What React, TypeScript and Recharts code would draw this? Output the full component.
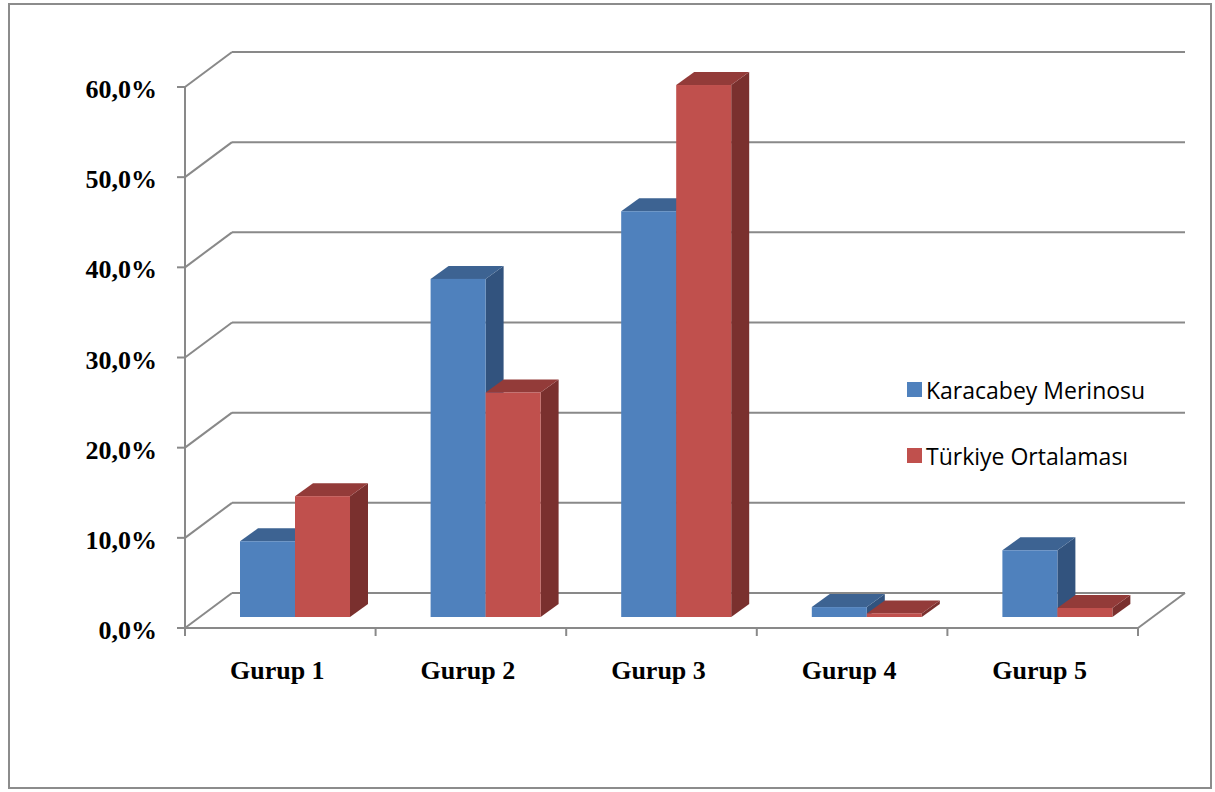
import { BarChart, Bar, XAxis, YAxis, CartesianGrid } from 'recharts';

const categories = ['Gurup 1', 'Gurup 2', 'Gurup 3', 'Gurup 4', 'Gurup 5'];
const karacabey = [8.4, 37.5, 45.0, 1.1, 7.4];
const turkiye = [13.4, 24.9, 59.0, 0.4, 1.0];
const yTicks = [0, 10, 20, 30, 40, 50, 60];
const seriesNames = ['Karacabey Merinosu', 'Türkiye Ortalaması'];

const data = categories.map((name, i) => ({
  name,
  karacabey: karacabey[i],
  turkiye: turkiye[i],
}));

const W = 1215;
const H = 792;
const margin = { top: 87, right: 77, bottom: 134, left: 85 };
const Y_AXIS_W = 100;
const X_AXIS_H = 30;
const PLOT_LEFT = margin.left + Y_AXIS_W;
const PLOT_RIGHT = W - margin.right;
const PLOT_BOTTOM = H - margin.bottom - X_AXIS_H;
const BAND = (PLOT_RIGHT - PLOT_LEFT) / categories.length;

// oblique offsets: back wall, bar front face, bar depth
const WALL = { dx: 47, dy: -35 };
const FRONT = { dx: 15, dy: -11 };
const DEPTH = { dx: 18, dy: -13 };

const GRID = '#898989';
const SERIF = '"Liberation Serif", "Times New Roman", serif';

const palette = {
  blue: { front: '#4F81BD', top: '#3D6392', side: '#32537E' },
  red: { front: '#C0504D', top: '#933B39', side: '#7A302E' },
};

const fmtPct = (v: number) => `${v.toFixed(1).replace('.', ',')}%`;

function makeBox(c: { front: string; top: string; side: string }) {
  return (props: any) => {
    const { x, y, width, height } = props;
    if (width == null || height == null) return <g />;
    const fx = x + FRONT.dx;
    const fy = y + FRONT.dy;
    const w = width;
    const h = height;
    const top = `${fx},${fy} ${fx + DEPTH.dx},${fy + DEPTH.dy} ${fx + w + DEPTH.dx},${fy + DEPTH.dy} ${fx + w},${fy}`;
    const side = `${fx + w},${fy} ${fx + w + DEPTH.dx},${fy + DEPTH.dy} ${fx + w + DEPTH.dx},${fy + h + DEPTH.dy} ${fx + w},${fy + h}`;
    return (
      <g>
        <polygon points={side} fill={c.side} />
        <polygon points={top} fill={c.top} />
        <rect x={fx} y={fy} width={w} height={Math.max(h, 0)} fill={c.front} />
      </g>
    );
  };
}

function WallLine(props: any) {
  const { x1, x2, y1 } = props;
  const bx = x1 + WALL.dx;
  const by = y1 + WALL.dy;
  const isFloor = Math.abs(y1 - PLOT_BOTTOM) < 1;
  return (
    <g key={props.key}>
      <line x1={x1} y1={y1} x2={bx} y2={by} stroke={GRID} strokeWidth={2} />
      <line x1={bx} y1={by} x2={x2 + WALL.dx} y2={by} stroke={GRID} strokeWidth={2} />
      {isFloor && (
        <line x1={x2} y1={y1} x2={x2 + WALL.dx} y2={by} stroke={GRID} strokeWidth={2} />
      )}
    </g>
  );
}

function CategoryTick(props: any) {
  const { x, payload, index } = props;
  const left = x - BAND / 2;
  const right = x + BAND / 2;
  return (
    <g>
      <line x1={left} y1={PLOT_BOTTOM} x2={left} y2={PLOT_BOTTOM + 8} stroke={GRID} strokeWidth={2} />
      {index === categories.length - 1 && (
        <line x1={right} y1={PLOT_BOTTOM} x2={right} y2={PLOT_BOTTOM + 8} stroke={GRID} strokeWidth={2} />
      )}
      <text
        x={x - 3}
        y={PLOT_BOTTOM + 51}
        textAnchor="middle"
        fontFamily={SERIF}
        fontWeight="bold"
        fontSize={26}
        fill="#000"
      >
        {payload.value}
      </text>
    </g>
  );
}

function ValueTick(props: any) {
  const { x, y, payload } = props;
  return (
    <text
      x={x}
      y={y + 11}
      textAnchor="end"
      fontFamily={SERIF}
      fontWeight="bold"
      fontSize={26}
      fill="#000"
    >
      {fmtPct(payload.value)}
    </text>
  );
}

function LegendBox() {
  const swatches = [palette.blue.front, palette.red.front];
  return (
    <div
      style={{
        position: 'absolute',
        left: 907,
        top: 373,
        fontFamily: '"Open Sans", "Noto Sans", sans-serif',
        fontSize: 23,
        color: '#000',
      }}
    >
      {seriesNames.map((n, i) => (
        <div key={n} style={{ display: 'flex', alignItems: 'center', height: 33, marginBottom: i === 0 ? 33 : 0 }}>
          <span style={{ width: 15, height: 15, background: swatches[i], display: 'inline-block', marginRight: 4 }} />
          <span>{n}</span>
        </div>
      ))}
    </div>
  );
}

export default function App() {
  return (
    <div style={{ position: 'absolute', left: 0, top: 0, width: W, height: H, background: '#fff' }}>
      <BarChart width={W} height={H} data={data} margin={margin} barSize={55} barGap={0}>
        <CartesianGrid vertical={false} horizontal={WallLine as any} />
        <XAxis
          dataKey="name"
          height={X_AXIS_H}
          tickLine={false}
          axisLine={{ stroke: GRID, strokeWidth: 2 }}
          tick={CategoryTick}
          interval={0}
        />
        <YAxis
          width={Y_AXIS_W}
          domain={[0, 60]}
          ticks={yTicks}
          interval={0}
          tickSize={8}
          tickMargin={20}
          tickLine={{ stroke: GRID, strokeWidth: 2 }}
          axisLine={{ stroke: GRID, strokeWidth: 2 }}
          tick={ValueTick}
        />
        <Bar dataKey="karacabey" name={seriesNames[0]} fill={palette.blue.front} shape={makeBox(palette.blue)} isAnimationActive={false} />
        <Bar dataKey="turkiye" name={seriesNames[1]} fill={palette.red.front} shape={makeBox(palette.red)} isAnimationActive={false} />
      </BarChart>
      <LegendBox />
      <div
        style={{
          position: 'absolute',
          left: 8,
          top: 3,
          width: 1204,
          height: 786,
          border: '2px solid #8c8c8c',
          boxSizing: 'border-box',
          pointerEvents: 'none',
        }}
      />
    </div>
  );
}
